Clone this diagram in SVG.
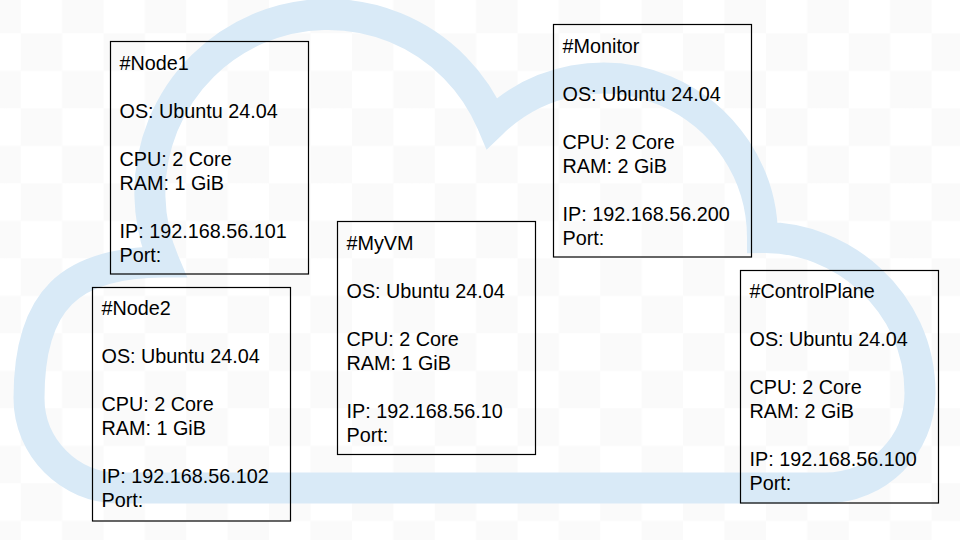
<svg xmlns="http://www.w3.org/2000/svg" width="960" height="540" viewBox="0 0 960 540">
<defs>
<pattern id="checker" patternUnits="userSpaceOnUse" x="20.7" y="33.3" width="82.8" height="75">
<rect x="0" y="0" width="82.8" height="75" fill="#ffffff"/>
<rect x="0" y="0" width="41.4" height="37.5" fill="#fafafa"/>
<rect x="41.4" y="37.5" width="41.4" height="37.5" fill="#fafafa"/>
</pattern>
</defs>
<style>
.box{fill:none;stroke:#000;stroke-width:1.2}
.t{font-family:"Liberation Sans",Arial,sans-serif;font-size:19.8px;fill:#000}
.cloud{fill:none;stroke:#d9eaf7;stroke-width:31;stroke-linejoin:miter;stroke-miterlimit:10}
</style>
<rect x="0" y="0" width="960" height="540" fill="url(#checker)"/>
<g id="cloud">
<path class="cloud" d="M 119 488 C 69.3 488, 29 447.7, 29 398 C 29 300, 70 262, 164 262 A 178 178 0 0 1 492 123 A 159.5 159.5 0 0 1 762.5 237.5 C 840 236, 920 300, 920 393 C 920 445.5, 877.5 488, 825 488 Z"/>
</g>
<g id="connectors"></g>
<g id="node1">
<rect class="box" x="110.5" y="41.5" width="198" height="232.5"/>
<text class="t" x="119.5" y="70">#Node1</text>
<text class="t" x="119.5" y="118">OS: Ubuntu 24.04</text>
<text class="t" x="119.5" y="166">CPU: 2 Core</text>
<text class="t" x="119.5" y="190">RAM: 1 GiB</text>
<text class="t" x="119.5" y="238">IP: 192.168.56.101</text>
<text class="t" x="119.5" y="262">Port:</text>
</g>
<g id="node2">
<rect class="box" x="92.5" y="287.5" width="198" height="233.5"/>
<text class="t" x="101.5" y="315">#Node2</text>
<text class="t" x="101.5" y="363">OS: Ubuntu 24.04</text>
<text class="t" x="101.5" y="411">CPU: 2 Core</text>
<text class="t" x="101.5" y="435">RAM: 1 GiB</text>
<text class="t" x="101.5" y="483">IP: 192.168.56.102</text>
<text class="t" x="101.5" y="507">Port:</text>
</g>
<g id="myvm">
<rect class="box" x="337.5" y="221.5" width="198" height="233"/>
<text class="t" x="346.5" y="250">#MyVM</text>
<text class="t" x="346.5" y="298">OS: Ubuntu 24.04</text>
<text class="t" x="346.5" y="346">CPU: 2 Core</text>
<text class="t" x="346.5" y="370">RAM: 1 GiB</text>
<text class="t" x="346.5" y="418">IP: 192.168.56.10</text>
<text class="t" x="346.5" y="442">Port:</text>
</g>
<g id="monitor">
<rect class="box" x="553.5" y="24.5" width="198" height="232.5"/>
<text class="t" x="562.5" y="53">#Monitor</text>
<text class="t" x="562.5" y="101">OS: Ubuntu 24.04</text>
<text class="t" x="562.5" y="149">CPU: 2 Core</text>
<text class="t" x="562.5" y="173">RAM: 2 GiB</text>
<text class="t" x="562.5" y="221">IP: 192.168.56.200</text>
<text class="t" x="562.5" y="245">Port:</text>
</g>
<g id="controlplane">
<rect class="box" x="740.5" y="270.5" width="198" height="232.5"/>
<text class="t" x="749.5" y="297.5">#ControlPlane</text>
<text class="t" x="749.5" y="345.5">OS: Ubuntu 24.04</text>
<text class="t" x="749.5" y="393.5">CPU: 2 Core</text>
<text class="t" x="749.5" y="417.5">RAM: 2 GiB</text>
<text class="t" x="749.5" y="465.5">IP: 192.168.56.100</text>
<text class="t" x="749.5" y="489.5">Port:</text>
</g>
</svg>
